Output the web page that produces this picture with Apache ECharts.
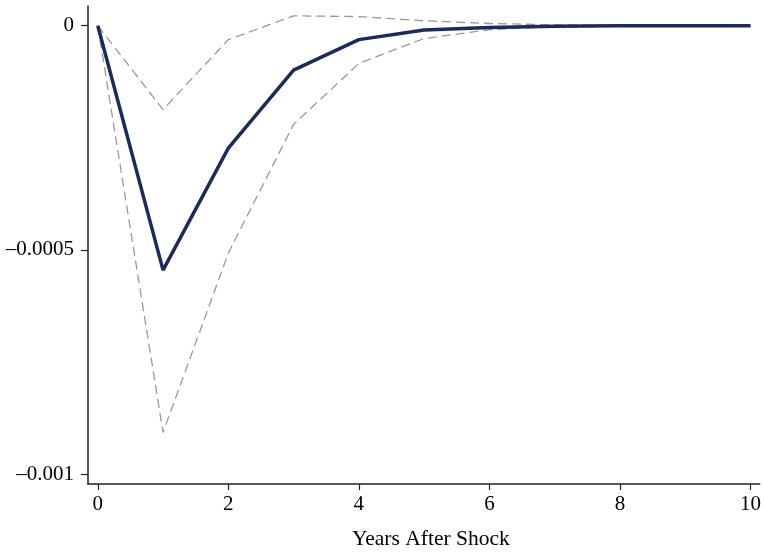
<!DOCTYPE html>
<html><head><meta charset="utf-8">
<script src="https://cdn.jsdelivr.net/npm/echarts@6/dist/echarts.min.js"></script>
<style>html,body{margin:0;padding:0;background:#fff}#c{width:764px;height:555px}</style>
</head><body><div id="c"></div>
<script>
const years = [0,1,2,3,4,5,6,7,8,9,10];
const irf   = [0,-0.000545,-0.000273,-0.000099,-0.000031,-0.0000095,-0.0000037,-0.000001,0,0,0];
const upper = [0,-0.000187,-0.000031,0.000022,0.0000205,0.000011,0.000005,0.000002,0.000001,0,0];
const lower = [0,-0.000907,-0.000507,-0.00022,-0.000084,-0.0000286,-0.0000088,-0.000002,-0.0000005,0,0];
const xTicks = [0,2,4,6,8,10];
const yTicks = [0,-0.0005,-0.001];
const xTitle = 'Years After Shock';

const font = 'Liberation Serif, Times New Roman, serif';
const pair = a => years.map((x,i)=>[x,a[i]]);
const chart = echarts.init(document.getElementById('c'), null, {renderer:'canvas'});
chart.setOption({
  animation:false,
  grid:{left:88,right:4,top:6,bottom:62,containLabel:false},
  xAxis:{type:'value',min:-0.15,max:10.14,
    name:xTitle,nameLocation:'middle',nameGap:44,
    nameTextStyle:{fontFamily:font,fontSize:21.5,color:'#000',padding:[0,0,0,14]},
    axisLine:{onZero:false,lineStyle:{color:'#222',width:1.5}},
    axisTick:{show:true,length:6,lineStyle:{color:'#222',width:1.2},customValues:xTicks},
    axisLabel:{fontFamily:font,fontSize:21,color:'#000',margin:10,customValues:xTicks},
    splitLine:{show:false}},
  yAxis:{type:'value',min:-0.001022,max:0.000044,
    axisLine:{show:true,onZero:false,lineStyle:{color:'#222',width:1.5}},
    axisTick:{show:true,length:7,lineStyle:{color:'#222',width:1.2},customValues:yTicks},
    axisLabel:{fontFamily:font,fontSize:21,color:'#000',margin:14,customValues:yTicks,
      formatter:v=>String(v).replace('-','\u2013')},
    splitLine:{show:false}},
  series:[
    {type:'line',data:pair(upper),symbol:'none',lineStyle:{color:'#999',width:1.3,type:[9,5]},z:2},
    {type:'line',data:pair(lower),symbol:'none',lineStyle:{color:'#999',width:1.3,type:[9,5]},z:2},
    {type:'line',data:pair(irf),symbol:'none',lineStyle:{color:'#1c2b58',width:3.5},z:3}
  ]
});
</script></body></html>
